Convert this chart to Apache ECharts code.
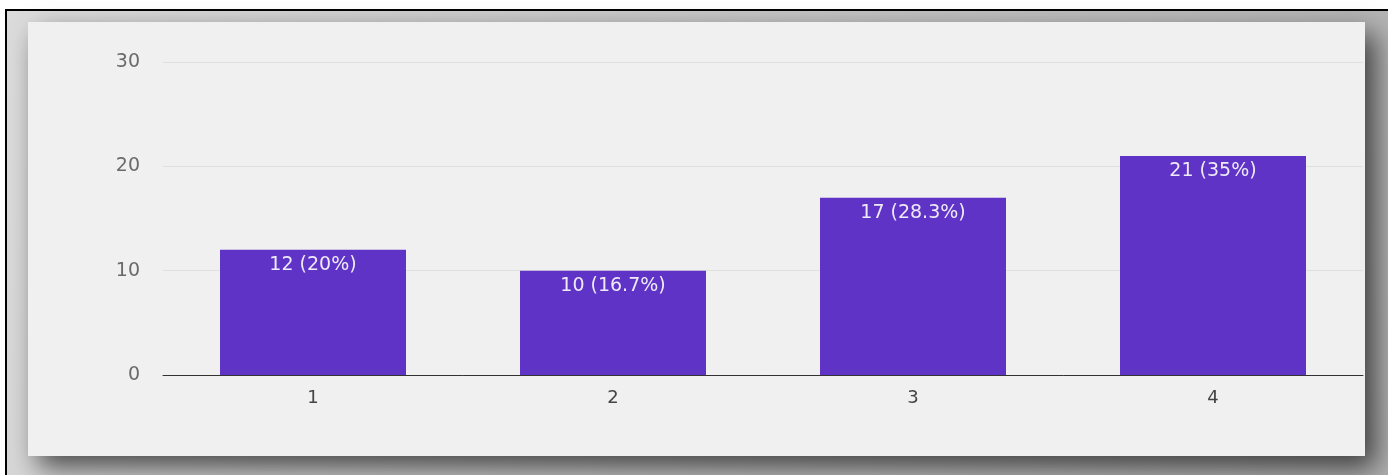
<!DOCTYPE html>
<html>
<head>
<meta charset="utf-8">
<script src="https://cdn.jsdelivr.net/npm/echarts@6/dist/echarts.min.js"></script>
<style>
html,body{margin:0;padding:0;background:#fff;}
#chart{width:1388px;height:475px;}
</style>
</head>
<body>
<div id="chart"></div>
<script>
const categories = ['1', '2', '3', '4'];
const counts = [12, 10, 17, 21];
const percents = ['20%', '16.7%', '28.3%', '35%'];
const yTicks = [0, 10, 20, 30];

const chart = echarts.init(document.getElementById('chart'));
chart.setOption({
  animation: false,
  backgroundColor: '#ffffff',
  graphic: [
    { type: 'rect', z: -30, shape: { x: 5, y: 9, width: 1383, height: 466 },
      style: { fill: '#000000' } },
    { type: 'rect', z: -29, shape: { x: 7, y: 11, width: 1381, height: 464 },
      style: { fill: new echarts.graphic.LinearGradient(0, 0, 1, 1, [
        { offset: 0, color: '#dcdcdc' }, { offset: 1, color: '#b0b0b0' }]) } },
    { type: 'rect', z: -28, shape: { x: 28, y: 22, width: 1337, height: 434 },
      style: { fill: '#f0f0f0', shadowBlur: 26, shadowOffsetX: 10, shadowOffsetY: 12,
        shadowColor: 'rgba(0,0,0,0.65)' } }
  ],
  grid: { left: 163, right: 25, top: 62, bottom: 100, containLabel: false },
  xAxis: {
    type: 'category',
    data: categories,
    axisLine: { show: true, lineStyle: { color: '#333333', width: 1 } },
    axisTick: { show: false },
    axisLabel: { color: '#444444', fontSize: 18, fontFamily: 'DejaVu Sans', margin: 14 }
  },
  yAxis: {
    type: 'value',
    min: yTicks[0],
    max: yTicks[yTicks.length - 1],
    interval: 10,
    axisLine: { show: false },
    axisTick: { show: false },
    axisLabel: { color: '#6a6a6a', fontSize: 19, fontFamily: 'DejaVu Sans', margin: 23 },
    splitLine: { lineStyle: { color: '#e0e0e0', width: 1 } }
  },
  series: [{
    type: 'bar',
    data: counts,
    barWidth: '62%',
    itemStyle: { color: '#5f33c6' },
    label: {
      show: true,
      position: 'insideTop',
      distance: 6,
      color: '#eeeaf8',
      fontSize: 19,
      fontFamily: 'DejaVu Sans',
      formatter: p => counts[p.dataIndex] + ' (' + percents[p.dataIndex] + ')'
    }
  }]
});
</script>
</body>
</html>
